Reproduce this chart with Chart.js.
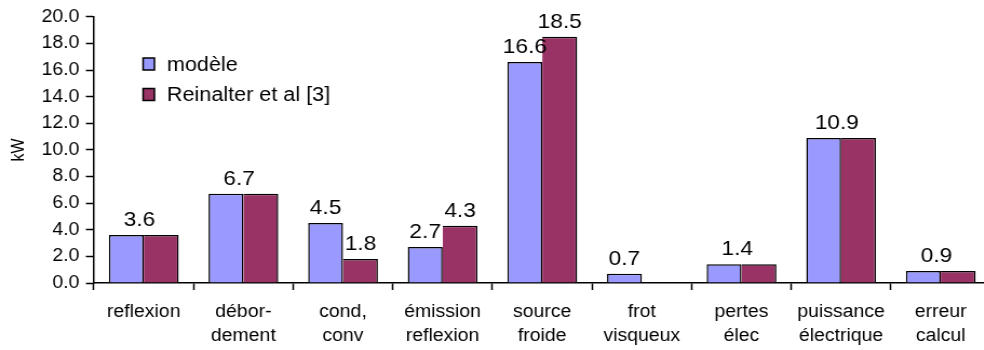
<!DOCTYPE html>
<html>
<head>
<meta charset="utf-8">
<script src="https://cdn.jsdelivr.net/npm/chart.js@4.4.0/dist/chart.umd.min.js"></script>
<style>
html, body { margin: 0; padding: 0; background: #fff; overflow: hidden; }
#wrap { width: 930px; height: 350px; transform: scaleX(1.08); transform-origin: 0 0; }
</style>
</head>
<body>
<div id="wrap"><canvas id="myChart" width="930" height="350"></canvas></div>
<script>
// categories (multi-line labels)
const categories = [
    ['reflexion'],
    ['débor-', 'dement'],
    ['cond,', 'conv'],
    ['émission', 'reflexion'],
    ['source', 'froide'],
    ['frot', 'visqueux'],
    ['pertes', 'élec'],
    ['puissance', 'électrique'],
    ['erreur', 'calcul']
];
const seriesNames = ['modèle', 'Reinalter et al [3]'];
const modele = [3.6, 6.7, 4.5, 2.7, 16.6, 0.7, 1.4, 10.9, 0.9];
const reinalter = [3.6, 6.7, 1.8, 4.3, 18.5, null, 1.4, 10.9, 0.9];
const yTicks = [0, 2, 4, 6, 8, 10, 12, 14, 16, 18, 20];

const FONT = '"Liberation Sans", Arial, sans-serif';

// value labels above the bars
const valueLabels = {
    id: 'valueLabels',
    afterDatasetsDraw(chart) {
        const ctx = chart.ctx;
        const m0 = chart.getDatasetMeta(0);
        const m1 = chart.getDatasetMeta(1);
        ctx.save();
        ctx.font = '21px ' + FONT;
        ctx.fillStyle = '#000';
        ctx.textAlign = 'center';
        ctx.textBaseline = 'alphabetic';
        modele.forEach(function (v, i) {
            const r = reinalter[i];
            const b0 = m0.data[i];
            const b1 = m1.data[i];
            if (r === v) {
                ctx.fillText(v.toFixed(1), (b0.x + b1.x) / 2 - 4, Math.min(b0.y, b1.y) - 9);
            } else {
                ctx.fillText(v.toFixed(1), b0.x, b0.y - 9);
                if (r !== null) ctx.fillText(r.toFixed(1), b1.x, b1.y - 9);
            }
        });
        ctx.restore();
    }
};

// legend inside the plot
const innerLegend = {
    id: 'innerLegend',
    afterDraw(chart) {
        const ctx = chart.ctx;
        const x0 = chart.chartArea.left + 45.5;
        ctx.save();
        ctx.font = '20px ' + FONT;
        ctx.textBaseline = 'middle';
        ctx.textAlign = 'left';
        chart.data.datasets.forEach(function (ds, i) {
            const cy = 64 + i * 30.5;
            ctx.fillStyle = ds.backgroundColor;
            ctx.fillRect(x0, cy - 6, 10.5, 12);
            ctx.strokeStyle = '#000';
            ctx.lineWidth = 1.5;
            ctx.strokeRect(x0, cy - 6, 10.5, 12);
            ctx.fillStyle = '#000';
            ctx.fillText(ds.label, x0 + 22, cy + 1);
        });
        ctx.restore();
    }
};

var ctx = document.getElementById('myChart').getContext('2d');
var chart = new Chart(ctx, {
    type: 'bar',
    data: {
        labels: categories,
        datasets: [{
            label: seriesNames[0],
            data: modele,
            backgroundColor: '#9999FF',
            borderColor: '#000',
            borderWidth: { top: 1.5, left: 1.5, right: 1.5, bottom: 0 },
            borderSkipped: false
        },
        {
            label: seriesNames[1],
            data: reinalter,
            backgroundColor: '#993366',
            borderColor: '#000',
            borderWidth: { top: 1.5, left: 0, right: 1.5, bottom: 0 },
            borderSkipped: false
        }]
    },
    options: {
        responsive: false,
        animation: false,
        categoryPercentage: 0.7,
        barPercentage: 1.0,
        layout: { padding: { top: 12.5, right: 12.8, left: 0, bottom: 0 } },
        plugins: {
            legend: { display: false },
            tooltip: { enabled: false }
        },
        scales: {
            x: {
                border: { color: '#000', width: 1.5 },
                grid: { offset: true, drawOnChartArea: false, tickLength: 7, tickColor: '#000', tickWidth: 1.5 },
                ticks: { color: '#000', font: { family: FONT, size: 18, lineHeight: 1.333 }, padding: 10, maxRotation: 0, autoSkip: false },
                afterFit: function (s) { s.height = 67; }
            },
            y: {
                min: 0,
                max: 20,
                border: { color: '#000', width: 1.5 },
                grid: { drawOnChartArea: false, tickLength: 7.5, tickColor: '#000', tickWidth: 1.5 },
                ticks: { color: '#000', font: { family: FONT, size: 18 }, padding: 6,
                    callback: function (v) { return v.toFixed(1); } },
                title: { display: true, text: 'kW', color: '#000', font: { family: FONT, size: 16 }, padding: { top: 8, bottom: 0 } },
                afterBuildTicks: function (s) { s.ticks = yTicks.map(function (v) { return { value: v }; }); },
                afterFit: function (s) { s.width = 87; }
            }
        }
    },
    plugins: [valueLabels, innerLegend]
});
</script>
</body>
</html>
